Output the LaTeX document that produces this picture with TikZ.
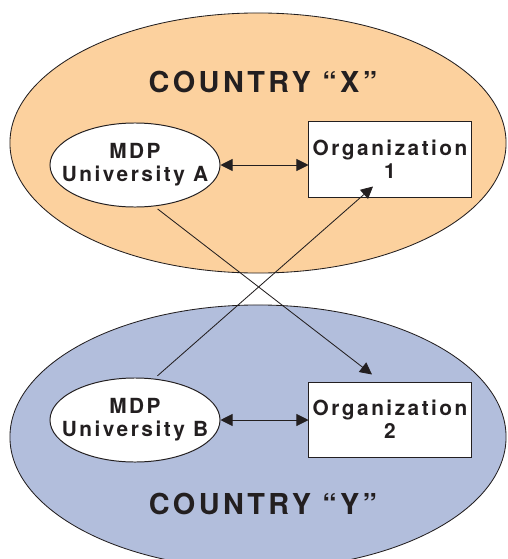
\documentclass[tikz,border=0pt]{standalone}
\usepackage{fontspec}
\usetikzlibrary{arrows.meta,shapes.geometric}
\newfontfamily\herosfont[LetterSpace=12]{TeX Gyre Heros}
\definecolor{countryx}{RGB}{252,209,158}
\definecolor{countryy}{RGB}{178,190,220}
\definecolor{ink}{RGB}{35,31,32}

\begin{document}
\begin{tikzpicture}[x=0.025cm,y=-0.025cm,
    uni/.style={ellipse,draw=ink,fill=white,line width=0.7pt,minimum width=4.25cm,minimum height=2.1cm,inner xsep=-11pt,inner ysep=0pt,align=center,text=ink,font=\herosfont\bfseries\fontsize{14.8}{16.5}\selectfont},
    org/.style={rectangle,draw=ink,fill=white,line width=0.7pt,minimum width=4.05cm,minimum height=1.875cm,inner sep=0pt,align=center,text=ink,font=\herosfont\bfseries\fontsize{14.8}{16.5}\selectfont},
    country/.style={text=ink,font=\herosfont\bfseries\fontsize{20.5}{22}\selectfont},
    link/.style={draw=ink,line width=0.6pt},
    onetip/.style={-{Triangle[length=3mm,width=3mm]}},
    twotips/.style={{Triangle[length=3mm,width=3mm]}-{Triangle[length=3mm,width=3mm]}}]
        \useasboundingbox (0,0) rectangle (507,559);
        \clip (0,0) rectangle (507,559);
        \filldraw[fill=countryx,draw=ink,line width=0.6pt] (258,143) ellipse [x radius=6.2cm,y radius=3.25cm];
        \filldraw[fill=countryy,draw=ink,line width=0.6pt] (258,437) ellipse [x radius=6.2cm,y radius=3.3cm];
        \node[country] (cx) at (263,82) {COUNTRY “X”};
        \node[country] (cy) at (263,504) {COUNTRY “Y”};

        \node[uni] (uniA) at (135,165) {MDP\\University A};
        \node[org] (org1) at (390,159.5) {Organization\\1};
        \node[uni] (uniB) at (135,420) {MDP\\University B};
        \node[org] (org2) at (390,419.5) {Organization\\2};

        \coordinate (inA) at ([shift={(-17,-11)}]org1.south);
        \coordinate (inB) at ([shift={(-18,-7)}]org2.north);

        \draw[link,twotips] (uniA.east) -- (uniA.east -| org1.west);
        \draw[link,twotips] (uniB.east) -- (uniB.east -| org2.west);
        \draw[link,onetip,shorten <=3pt] (uniA.-65) -- (inB);
        \draw[link,onetip,shorten <=3pt] (uniB.65) -- (inA);
      \end{tikzpicture}
\end{document}
